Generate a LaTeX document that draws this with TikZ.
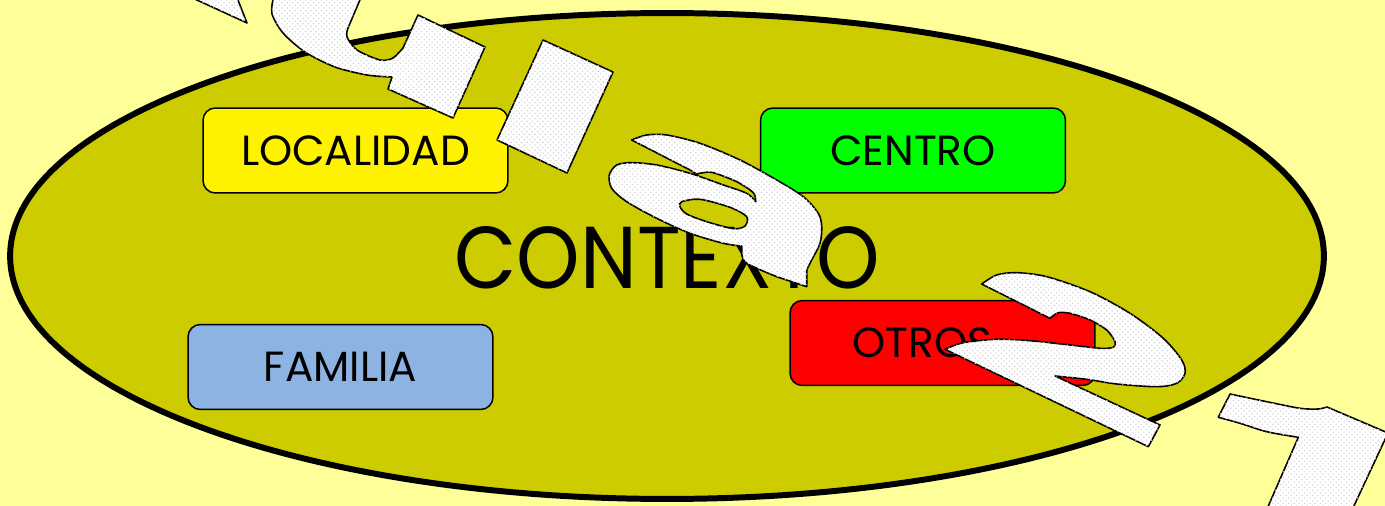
\documentclass[tikz,border=0pt]{standalone}
\usepackage{fontspec}
\setmainfont{Poppins}
\usepackage{tikz}
\usetikzlibrary{patterns, positioning}
\definecolor{fondo}{HTML}{FFFF99}
\definecolor{oliva}{HTML}{CCCC00}
\definecolor{azulfam}{HTML}{8DB3E2}

\begin{document}
\begin{tikzpicture}[x=0.02cm, y=-0.02cm,
  caja/.style={draw, line width=0.85pt, rounded corners=7pt, minimum width=6.1cm,
    minimum height=1.7cm, inner sep=0pt, font=\fontsize{24}{28}\selectfont},
  wordart/.style={draw=black, line width=0.9pt, line join=round, fill=white,
    postaction={pattern=crosshatch dots, pattern color=gray!30}}]

\fill[fondo] (0,0) rectangle (1385,506);
\useasboundingbox (0,0) rectangle (1385,506);

% contexto
\draw[line width=3.4pt, fill=oliva] (667,256) ellipse [x radius=13.14cm, y radius=4.86cm];
\node[font=\fontsize{50}{60}\selectfont, xscale=0.92] (contexto) at (667,258) {CONTEXTO};

\node[caja, fill=yellow] (localidad) at (355.5,150.5) {LOCALIDAD};
\node[caja, fill=green] (centro) at (913,150.5) {CENTRO};
\node[caja, fill=azulfam] (familia) at (340.5,367) {FAMILIA};
\node[caja, fill=red] (otros) at (942.5,343) {OTROS\hspace*{0.8cm}};

% letras encima
\begin{scope}
\clip (0,0) rectangle (1385,506);
\filldraw[wordart] (186,-5) -- (247,23) -- (236,-5) -- cycle;
\filldraw[wordart] (275,-5) -- plot[smooth] coordinates {(273,0) (272,14) (283,33) (305,52) (335,67) (367,75) (392,77)}
  -- (388,89) -- (453,118) -- (485,47) -- (418,15)
  -- plot[smooth] coordinates {(403,48) (393,58) (380,60) (357,50) (347,37) (348,28)} -- (362,-5) -- cycle;
\filldraw[wordart] (543,40) -- (613,72) -- (567,173) -- (497,140) -- cycle;
\filldraw[wordart, even odd rule] (631.7,140)
  -- plot[smooth] coordinates {(631.7,140) (646.7,135) (666.7,135) (700,143.3) (740,160) (776.7,180) (803.3,196.7) (818.3,213.3) (821.7,226.7) (820,243.3) (811.7,260) (806.7,270)}
  -- (806.7,286.7)
  -- plot[smooth] coordinates {(776.7,276.7) (746.7,263.3) (741.7,253.3)} -- (741.7,246)
  -- plot[smooth] coordinates {(741.7,246) (723.3,243.3) (690,233.3) (656.7,218.3) (626.7,201.7) (611.7,188.3) (609.3,175) (616.7,165) (631.7,162.7) (656.7,165) (690,173.3) (723.3,185) (746.7,193.3) (755.7,201.7)}
  -- plot[smooth] coordinates {(755.7,201.7) (753.3,192.7) (736.7,181.7) (713.3,172.7) (703.3,172.7) (696.7,174)}
  -- (690,170) -- cycle
  plot[smooth cycle] coordinates {(681.7,201.7) (700,199.3) (730,207.3) (746.7,216.7) (745,226) (733.3,228.7) (706.7,221.7) (686.7,214) (680,206.7)};
\filldraw[wordart] (981.7,284)
  -- plot[smooth] coordinates {(981.7,284) (996.7,275) (1016.7,272.7) (1046.7,276.7) (1090,291.7) (1130,313.3) (1163.3,338.3) (1181.7,360) (1185,373.3) (1176.7,383.3) (1156.7,386.7) (1116.7,384) (1086.7,379.3) (1055,376)}
  -- (1160,425) -- (1148.3,446.7) -- (945,349.3)
  -- plot[smooth] coordinates {(945,349.3) (963.3,342.7) (996.7,339.3) (1030,340.7) (1070,345) (1100,348.3) (1113.3,347.3) (1115,341.7) (1106.7,330) (1090,320) (1070,313.3) (1058.3,312.7) (1050,318.3)}
  -- cycle;
\filldraw[wordart] (1230,394)
  -- plot[smooth] coordinates {(1230,394) (1266.7,401.7) (1300,408.3) (1318,409) (1327,407)}
  -- (1388,433) -- (1345,525) -- (1260,525) -- (1298.3,437.3)
  -- plot[smooth] coordinates {(1298.3,437.3) (1266.7,431.7) (1240,423.3) (1218.3,417.3)} -- cycle;
\end{scope}

\end{tikzpicture}
\end{document}
